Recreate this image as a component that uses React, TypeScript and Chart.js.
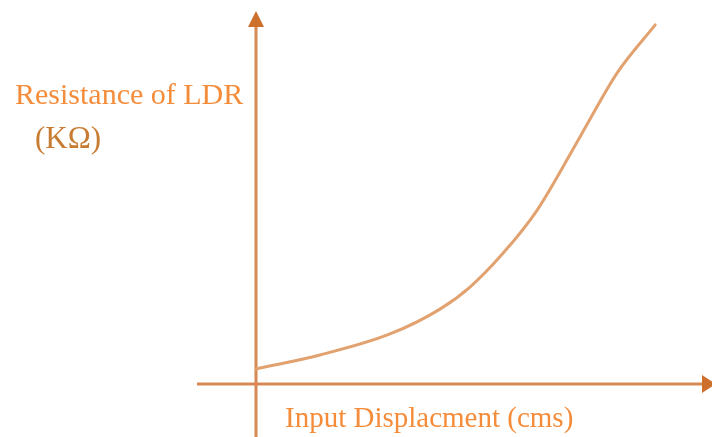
import React, { useEffect, useRef } from "react";
import { Chart, registerables } from "chart.js";

Chart.register(...registerables);

// Input displacement (cms) and resistance (KΩ)
const displacement = [0, 1.6, 3.35, 4.6, 5.35, 6.18, 7.03, 8.1, 9.03, 9.98];
const resistance = [0.43, 0.83, 1.43, 2.14, 2.77, 3.74, 4.97, 7.06, 8.89, 10.26];

const yTitleLine1 = "Resistance of LDR";
const yTitleLine2 = "(KΩ)";
const xTitle = "Input Displacment (cms)";

const axisPlugin = {
  id: "axisArrows",
  beforeDatasetsDraw(chart: any) {
    const { ctx, scales } = chart;
    const x0 = scales.x.getPixelForValue(0);
    const y0 = scales.y.getPixelForValue(0);
    ctx.save();
    ctx.strokeStyle = "rgb(214,137,82)";
    ctx.lineWidth = 3;
    ctx.beginPath();
    ctx.moveTo(197, y0);
    ctx.lineTo(704, y0);
    ctx.stroke();
    ctx.beginPath();
    ctx.moveTo(x0, 437);
    ctx.lineTo(x0, 24);
    ctx.stroke();
    ctx.fillStyle = "rgb(206,112,45)";
    ctx.beginPath();
    ctx.moveTo(x0, 11);
    ctx.lineTo(x0 - 8, 27);
    ctx.lineTo(x0 + 8, 27);
    ctx.closePath();
    ctx.fill();
    ctx.beginPath();
    ctx.moveTo(716, y0);
    ctx.lineTo(702, y0 - 9);
    ctx.lineTo(702, y0 + 9);
    ctx.closePath();
    ctx.fill();

    ctx.textBaseline = "alphabetic";
    ctx.textAlign = "left";
    ctx.font = "30px 'Liberation Serif', serif";
    ctx.fillStyle = "rgb(245,140,58)";
    ctx.fillText(yTitleLine1, 15, 104);
    ctx.font = "31px 'Liberation Serif', serif";
    ctx.fillStyle = "rgb(200,124,50)";
    ctx.fillText(yTitleLine2, 35, 148);
    ctx.font = "29px 'Liberation Serif', serif";
    ctx.fillStyle = "rgb(245,140,58)";
    ctx.fillText(xTitle, 285, 427);
    ctx.restore();
  },
};

export default function App() {
  const ref = useRef<HTMLCanvasElement | null>(null);
  useEffect(() => {
    document.body.style.margin = "0";
    const chart = new Chart(ref.current as HTMLCanvasElement, {
      type: "line",
      data: {
        datasets: [
          {
            data: displacement.map((x, i) => ({ x, y: resistance[i] })),
            borderColor: "rgb(226,162,112)",
            borderWidth: 3,
            borderCapStyle: "round",
            pointRadius: 0,
            cubicInterpolationMode: "monotone",
            fill: false,
          },
        ],
      },
      options: {
        animation: false,
        responsive: false,
        maintainAspectRatio: false,
        layout: { padding: 0 },
        plugins: { legend: { display: false }, tooltip: { enabled: false }, title: { display: false } },
        scales: {
          x: { type: "linear", min: -6.4, max: 11.4, display: false },
          y: { type: "linear", min: -1.514, max: 10.971, display: false },
        },
      },
      plugins: [axisPlugin],
    });
    return () => chart.destroy();
  }, []);
  return (
    <div style={{ width: 712, height: 437, background: "#fff" }}>
      <canvas ref={ref} width={712} height={437} style={{ display: "block" }} />
    </div>
  );
}
